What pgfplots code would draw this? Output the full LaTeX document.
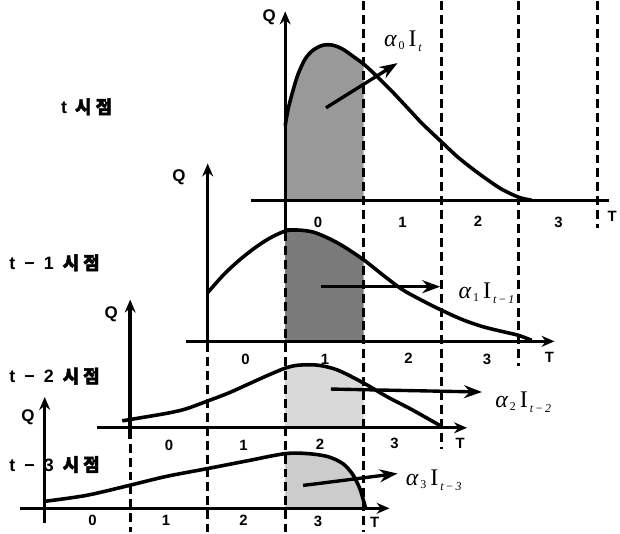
\documentclass[border=0pt]{standalone}
\usepackage{fontspec}
\setmainfont{Liberation Sans}
\newfontfamily\kr[FakeBold=2.5]{Noto Sans CJK KR}
\newfontfamily\lser{Liberation Serif}
\usepackage{pgfplots}
\pgfplotsset{compat=1.18}
\usetikzlibrary{arrows.meta}
\newcommand\tk{\fontsize{15}{15}\selectfont\bfseries}
\newcommand\qq{\fontsize{17}{17}\selectfont\bfseries}
\newcommand\lb{\fontsize{18}{18}\selectfont\bfseries}
\newcommand\alab[2]{{\lser\fontsize{24}{24}\selectfont\itshape α\hspace{2pt}\raisebox{-3pt}{\fontsize{12}{12}\selectfont\upshape #1}\hspace{4pt}\upshape I\hspace{2pt}\raisebox{-5pt}{\fontsize{12}{12}\selectfont\itshape #2}}}
\begin{document}
\begin{tikzpicture}
\begin{axis}[scale only axis, width=620pt, height=534pt, xmin=0, xmax=620, ymin=0, ymax=534,
  y dir=reverse, hide axis, clip=false,
  curve/.style={black, line width=3.6pt, smooth, line join=round},
  ax/.style={black, line width=3.4pt},
  axa/.style={black, line width=3.4pt, -{Stealth[length=13pt,width=11pt]}},
  dsh/.style={black, line width=3pt, dash pattern=on 9pt off 5pt},
  arr/.style={black, line width=3.4pt, -{Stealth[length=18pt,width=13pt]}}]
\addplot[draw=none] coordinates {(0,0) (620,534)};
% shaded areas
\addplot[fill=black!40, draw=none] coordinates {(287,200) (287,125) (290,108) (295,89) (300,73) (307,58) (315,49) (325,44) (335,44) (345,48) (355,55) (366,63) (366,200)} -- cycle;
\addplot[fill=black!52, draw=none] coordinates {(287,342) (287,231) (300,230) (315,232) (330,238) (345,246) (366,260) (366,342)} -- cycle;
\addplot[fill=black!15, draw=none] coordinates {(287,429) (287,369) (300,366) (320,366) (340,371) (366,384) (366,429)} -- cycle;
\addplot[fill=black!20, draw=none] coordinates {(287,510) (287,455) (310,455) (330,458) (345,465) (355,476) (362,490) (366,503) (368,510)} -- cycle;
% dashed verticals
\addplot[dsh] coordinates {(131,431) (131,534)};
\addplot[dsh] coordinates {(209,344) (209,534)};
\addplot[dsh] coordinates {(287,232) (287,534)};
\addplot[dsh] coordinates {(366,0) (366,534)};
\addplot[dsh] coordinates {(444,0) (444,450)};
\addplot[dsh] coordinates {(522,0) (522,367)};
\addplot[dsh] coordinates {(601,0) (601,228)};
% curves
\addplot[curve] coordinates {(287,125) (290,108) (295,89) (300,73) (307,58) (315,49) (325,44) (335,44) (345,48) (355,55) (366,63) (380,76) (395,91) (410,107) (425,123) (444,141) (460,156) (475,168) (490,179) (505,189) (522,197) (535,200)};
\addplot[curve] coordinates {(209,293) (225,275) (240,261) (255,249) (270,239) (287,231) (300,230) (315,232) (330,238) (345,246) (366,260) (385,275) (405,290) (425,301) (445,311) (465,320) (485,327) (505,332) (522,336) (535,341)};
\addplot[curve] coordinates {(123,422) (147,418) (170,414) (187,410) (209,402) (230,394) (250,385) (270,376) (287,369) (300,366) (320,366) (340,371) (366,384) (390,398) (415,411) (445,428)};
\addplot[curve] coordinates {(45,503) (87,497) (130,487) (167,478) (209,470) (250,462) (287,455) (310,455) (330,458) (345,465) (355,476) (362,490) (366,503) (368,510)};
% axes
\addplot[ax] coordinates {(253,200) (613,200)};
\addplot[axa] coordinates {(287,230) (287,10)};
\addplot[ax] coordinates {(287,230) (300,230)};
\addplot[axa] coordinates {(187,342) (558,342)};
\addplot[axa] coordinates {(209,342) (209,163)};
\addplot[axa] coordinates {(98,429) (470,429)};
\addplot[axa] coordinates {(131,440) (131,300)};
\addplot[axa] coordinates {(20,510) (392,510)};
\addplot[axa] coordinates {(45,525) (45,398)};
% alpha arrows
\addplot[arr] coordinates {(328,107) (400,62)};
\addplot[arr] coordinates {(323,287) (443,287)};
\addplot[arr] coordinates {(333,390) (485,393)};
\addplot[arr] coordinates {(305,487) (400,475)};
% tick labels
\node at (axis cs:320,222) {\tk 0};
\node at (axis cs:405,222) {\tk 1};
\node at (axis cs:481,221) {\tk 2};
\node at (axis cs:562,222) {\tk 3};
\node at (axis cs:616,216) {\tk T};
\node at (axis cs:247,360) {\tk 0};
\node at (axis cs:327,360) {\tk 1};
\node at (axis cs:411,359) {\tk 2};
\node at (axis cs:490,360) {\tk 3};
\node at (axis cs:553,358) {\tk T};
\node at (axis cs:170,447) {\tk 0};
\node at (axis cs:245,447) {\tk 1};
\node at (axis cs:322,446) {\tk 2};
\node at (axis cs:397,445) {\tk 3};
\node at (axis cs:463,445) {\tk T};
\node at (axis cs:93,522) {\tk 0};
\node at (axis cs:167,522) {\tk 1};
\node at (axis cs:245,522) {\tk 2};
\node at (axis cs:320,523) {\tk 3};
\node at (axis cs:377,524) {\tk T};
% Q labels
\node at (axis cs:271,16) {\qq Q};
\node at (axis cs:180,177) {\qq Q};
\node at (axis cs:112,315) {\qq Q};
\node at (axis cs:28,418) {\qq Q};
% row labels
\node[anchor=west] at (axis cs:58,106) {\lb t\hspace{8pt}{\kr 시 점}};
\node[anchor=west] at (axis cs:6,263) {\lb t\hspace{9pt}−\hspace{9pt}1\hspace{9pt}{\kr 시 점}};
\node[anchor=west] at (axis cs:6,377) {\lb t\hspace{9pt}−\hspace{9pt}2\hspace{9pt}{\kr 시 점}};
\node[anchor=west] at (axis cs:6,466) {\lb t\hspace{9pt}−\hspace{9pt}3\hspace{9pt}{\kr 시 점}};
% alpha labels
\node[anchor=west] at (axis cs:383,40) {\alab{0}{t}};
\node[anchor=west] at (axis cs:458,294) {\alab{1}{t\,−\,1}};
\node[anchor=west] at (axis cs:495,403) {\alab{2}{t\,−\,2}};
\node[anchor=west] at (axis cs:405,482) {\alab{3}{t\,−\,3}};
\end{axis}
\end{tikzpicture}
\end{document}
